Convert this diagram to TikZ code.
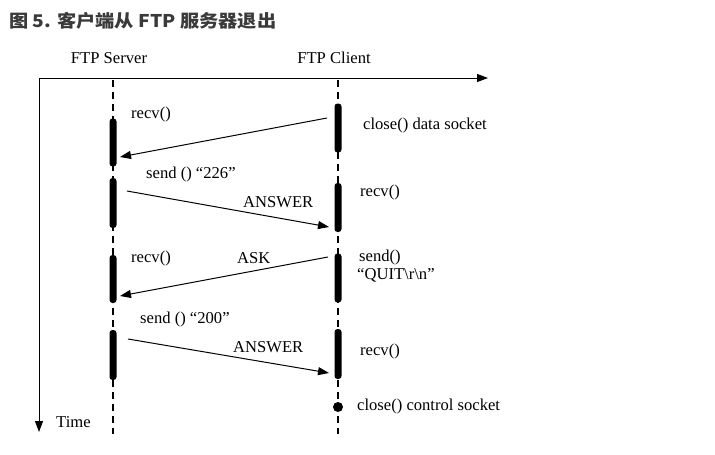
\documentclass[tikz,border=0pt]{standalone}
\usepackage{fontspec}
\usepackage{graphicx}
\setmainfont{Liberation Serif}
\newfontfamily\cjkfont{Noto Sans CJK SC}
\usetikzlibrary{arrows.meta}
\definecolor{titlegray}{HTML}{3A3A3A}
\tikzset{
  lbl/.style={anchor=west, inner sep=0pt, font=\fontsize{16.6}{19}\selectfont},
  hdr/.style={anchor=center, inner sep=0pt, font=\fontsize{16.6}{19}\selectfont},
  life/.style={line width=1.3pt, dash pattern=on 7pt off 5pt},
  bar/.style={draw=none, fill=black, rectangle, rounded corners=3pt, minimum width=7pt, inner sep=0pt},
  msg/.style={line width=1pt, -{Triangle[length=11pt,width=8pt]}},
  axis/.style={line width=1pt, -{Triangle[length=11pt,width=8pt]}},
}
\begin{document}
\begin{tikzpicture}[x=1pt,y=-1pt]
\useasboundingbox (0,0) rectangle (715,455);
% title
\node[anchor=west, inner sep=0pt, text=titlegray, font=\cjkfont\bfseries\fontsize{17.5}{20}\selectfont] (title) at (9,21) {\scalebox{1.1}[1]{图 5. 客户端从 FTP 服务器退出}};
% headers
\node[hdr] (srv) at (109,58) {FTP Server};
\node[hdr] (cli) at (334,58) {FTP Client};
% axes
\coordinate (origin) at (39,78);
\coordinate (xend) at (488,78);
\coordinate (yend) at (39,432);
\draw[axis] (origin) -- (xend);
\draw[axis] (origin) -- (yend);
\node[lbl] (time) at (56,422) {Time};
% lifelines
\coordinate (stop) at (113,80);
\coordinate (sbot) at (113,434);
\coordinate (ctop) at (338,80);
\coordinate (cbot) at (338,434);
\draw[life] (stop) -- (sbot);
\draw[life] (ctop) -- (cbot);
% server bars
\node[bar, minimum height=48pt] (s1) at (113,142.5) {};
\node[bar, minimum height=50pt] (s2) at (113,203) {};
\node[bar, minimum height=48pt] (s3) at (113,279) {};
\node[bar, minimum height=50pt] (s4) at (113,355) {};
% client bars
\node[bar, minimum height=49pt] (c1) at (338,128) {};
\node[bar, minimum height=49pt] (c2) at (338,207.5) {};
\node[bar, minimum height=49pt] (c3) at (338,278) {};
\node[bar, minimum height=50pt] (c4) at (338,354) {};
\node[circle, fill=black, inner sep=0pt, minimum size=10pt] (cdot) at (338,407) {};
% messages
\coordinate (m1a) at (327,118);
\coordinate (m1b) at (120,157);
\coordinate (m2a) at (127,191);
\coordinate (m2b) at (329,227);
\coordinate (m3a) at (328,257);
\coordinate (m3b) at (120,296);
\coordinate (m4a) at (128,339);
\coordinate (m4b) at (329,373);
\draw[msg] (m1a) -- (m1b);
\draw[msg] (m2a) -- (m2b);
\draw[msg] (m3a) -- (m3b);
\draw[msg] (m4a) -- (m4b);
% labels
\node[lbl] (l1) at (131,115) {recv()};
\node[lbl] (l2) at (363,126) {close() data socket};
\node[lbl] (l3) at (146,175) {send () “226”};
\node[lbl] (l4) at (243,202) {ANSWER};
\node[lbl] (l5) at (360,193) {recv()};
\node[lbl] (l6) at (131,259) {recv()};
\node[lbl] (l7) at (237,258) {ASK};
\node[lbl] (l8) at (359,258) {send()};
\node[lbl] (l9) at (357,275) {“QUIT\textbackslash r\textbackslash n”};
\node[lbl] (l10) at (140,320) {send () “200”};
\node[lbl] (l11) at (233,347) {ANSWER};
\node[lbl] (l12) at (360,352) {recv()};
\node[lbl] (l13) at (357,407) {close() control socket};
\end{tikzpicture}
\end{document}
